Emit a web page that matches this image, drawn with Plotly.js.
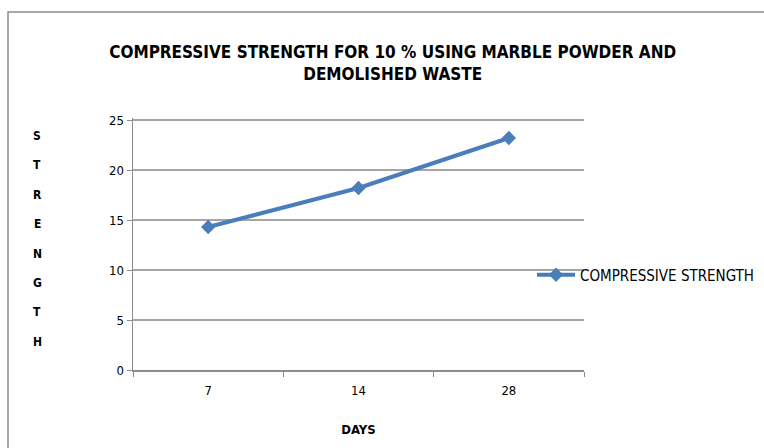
<!DOCTYPE html>
<html>
<head>
<meta charset="utf-8">
<script src="https://cdn.plot.ly/plotly-3.0.1.min.js"></script>
<style>html,body{margin:0;padding:0;background:#fff;}#chart{width:764px;height:448px;}</style>
</head>
<body>
<div id="chart"></div>
<script>
const days = ['7', '14', '28'];
const strength = [14.3, 18.2, 23.2];
const seriesName = 'COMPRESSIVE STRENGTH';
const yTicks = [0, 5, 10, 15, 20, 25];
const yTitleLetters = 'STRENGTH'.split('');

const FONT = '"DejaVu Sans Condensed", "Liberation Sans Narrow", Arial, sans-serif';
const L = 133, R = 584, T = 118, B = 370, W = 764, H = 448;
const px = x => (x - L) / (R - L);
const py = y => (B - y) / (B - T);

const trace = {
  x: days, y: strength, type: 'scatter', mode: 'lines+markers', name: seriesName,
  line: {color: '#4a7ebb', width: 4},
  marker: {symbol: 'diamond', size: 11, color: '#4a7ebb'}
};

const letterAnns = yTitleLetters.map((ch, i) => ({
  text: '<b>' + ch + '</b>',
  xref: 'paper', yref: 'paper', x: px(37), y: py(136 + i * 29.4),
  xanchor: 'center', yanchor: 'middle', showarrow: false,
  font: {family: FONT, size: 12, color: '#000'}
}));

const layout = {
  width: W, height: H,
  margin: {l: L, r: W - R, t: T, b: H - B, autoexpand: false},
  paper_bgcolor: '#fff', plot_bgcolor: '#fff',
  font: {family: FONT, color: '#000', size: 12},
  title: {
    text: '<b>COMPRESSIVE STRENGTH FOR 10 % USING MARBLE POWDER AND<br>DEMOLISHED WASTE</b>',
    font: {family: FONT, size: 17, color: '#000'},
    x: 0.514, xanchor: 'center', y: 1 - 58 / H, yanchor: 'middle'
  },
  xaxis: {
    type: 'category', range: [-0.5, 2.5], tickson: 'boundaries',
    showline: true, linecolor: '#8c8c8c', linewidth: 1.5,
    ticks: 'outside', ticklen: 5, tickcolor: '#8c8c8c',
    showgrid: false, zeroline: false, ticklabelstandoff: 8,
    tickfont: {family: FONT, size: 13, color: '#000'},
    title: {text: '<b>DAYS</b>', font: {family: FONT, size: 13, color: '#000'}, standoff: 28}
  },
  yaxis: {
    range: [0, 25.2], tickvals: yTicks, ticktext: yTicks.map(String),
    showline: true, linecolor: '#8c8c8c', linewidth: 1.5,
    ticks: 'outside', ticklen: 5, tickcolor: '#8c8c8c',
    showgrid: true, gridcolor: '#a6a6a6', gridwidth: 1.5, zeroline: false,
    tickfont: {family: FONT, size: 13, color: '#000'}
  },
  showlegend: true,
  legend: {
    x: px(532), xanchor: 'left', y: py(275), yanchor: 'middle',
    font: {family: FONT, size: 15, color: '#000'},
    bgcolor: 'rgba(0,0,0,0)', itemwidth: 38
  },
  annotations: letterAnns,
  shapes: [{
    type: 'rect', xref: 'paper', yref: 'paper',
    x0: px(8), y0: py(470), x1: px(800), y1: py(12),
    line: {color: '#8c8c8c', width: 1.5}, fillcolor: 'rgba(0,0,0,0)', layer: 'below'
  }]
};

Plotly.newPlot('chart', [trace], layout, {displayModeBar: false, staticPlot: true});
</script>
</body>
</html>
